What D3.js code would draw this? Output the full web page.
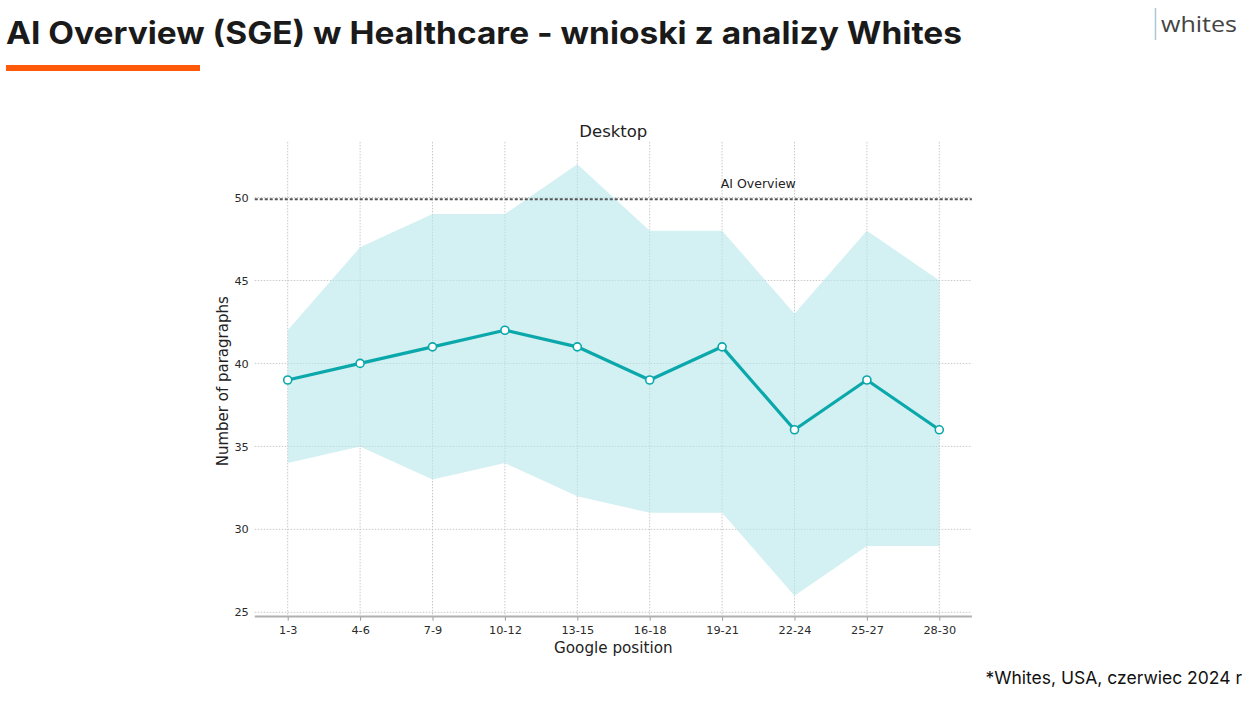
<!DOCTYPE html>
<html><head><meta charset="utf-8">
<script src="https://cdn.jsdelivr.net/npm/d3@7"></script>
<style>
html,body{margin:0;padding:0;background:#fff;}
svg{display:block;}
</style></head>
<body>
<svg id="chart" width="1258" height="705"></svg>
<script>
const categories = ["1-3","4-6","7-9","10-12","13-15","16-18","19-21","22-24","25-27","28-30"];
const meanValues = [39,40,41,42,41,39,41,36,39,36];
const upperValues = [42,47,49,49,52,48,48,43,48,45];
const lowerValues = [34,35,33,34,32,31,31,26,29,29];
const yTicks = [25,30,35,40,45,50];
const aiOverviewValue = 49.9;

const svg = d3.select("#chart");

// Header
svg.append("text").attr("x",6).attr("y",44)
  .attr("font-family","Inter, 'Open Sans', sans-serif").attr("font-weight",700)
  .attr("font-size",31).attr("fill","#1a1a1a")
  .attr("textLength",956).attr("lengthAdjust","spacingAndGlyphs")
  .text("AI Overview (SGE) w Healthcare - wnioski z analizy Whites");
svg.append("rect").attr("x",6).attr("y",65).attr("width",194).attr("height",6).attr("fill","#ff5a0a");

// logo
svg.append("line").attr("x1",1155.5).attr("x2",1155.5).attr("y1",8).attr("y2",40)
  .attr("stroke","#a9c8d6").attr("stroke-width",1.5);
svg.append("text").attr("x",1161).attr("y",32)
  .attr("font-family","'Open Sans', sans-serif").attr("font-size",22).attr("fill","#444")
  .attr("textLength",76).attr("lengthAdjust","spacingAndGlyphs")
  .text("whites");

// footnote
svg.append("text").attr("x",1242).attr("y",684).attr("text-anchor","end")
  .attr("font-family","Inter, 'Open Sans', sans-serif").attr("font-size",17.5).attr("fill","#111")
  .text("*Whites, USA, czerwiec 2024 r");

// Chart
const x = d3.scalePoint().domain(categories).range([287.7, 939.3]);
const step = x.step();
const xLeft = x(categories[0]) - step*0.455, xRight = x(categories[categories.length-1]) + step*0.45;
const y = d3.scaleLinear().domain([25,50]).range([612.3,197.5]);
const yTop = y(53.35), yBot = y(24.74);

const g = svg.append("g");
const font = "'DejaVu Sans', sans-serif";

// grid
g.append("g").selectAll("line").data(yTicks).join("line")
  .attr("x1",xLeft).attr("x2",xRight).attr("y1",d=>y(d)).attr("y2",d=>y(d))
  .attr("stroke","#c8c8c8").attr("stroke-width",1).attr("stroke-dasharray","1.5,1.5");
g.append("g").selectAll("line").data(categories).join("line")
  .attr("x1",d=>x(d)).attr("x2",d=>x(d)).attr("y1",yTop).attr("y2",yBot)
  .attr("stroke","#c8c8c8").attr("stroke-width",1).attr("stroke-dasharray","1.5,1.5");

// band
const area = d3.area().x((d,i)=>x(categories[i])).y0((d,i)=>y(lowerValues[i])).y1((d,i)=>y(upperValues[i]));
g.append("path").datum(categories).attr("d",area).attr("fill","#b6e6ea").attr("fill-opacity",0.6);

// AI overview line
g.append("line").attr("x1",xLeft).attr("x2",xRight).attr("y1",y(aiOverviewValue)).attr("y2",y(aiOverviewValue))
  .attr("stroke","#555").attr("stroke-width",2).attr("stroke-dasharray","3,2");
g.append("text").attr("x",x(categories[6])+step*0.5).attr("y",y(aiOverviewValue)-11)
  .attr("text-anchor","middle").attr("font-family",font).attr("font-size",12.5).attr("fill","#222")
  .text("AI Overview");

// mean line
const line = d3.line().x((d,i)=>x(categories[i])).y(d=>y(d));
g.append("path").datum(meanValues).attr("d",line).attr("fill","none")
  .attr("stroke","#0aa8aa").attr("stroke-width",3.2).attr("stroke-linejoin","round");
g.append("g").selectAll("circle").data(meanValues).join("circle")
  .attr("cx",(d,i)=>x(categories[i])).attr("cy",d=>y(d)).attr("r",4)
  .attr("fill","#fff").attr("stroke","#0aa8aa").attr("stroke-width",1.6);

// axes
const xAxis = d3.axisBottom(x).tickSize(4).tickPadding(5);
const xg = g.append("g").attr("transform",`translate(0,${yBot})`).call(xAxis);
xg.select(".domain").remove();
xg.selectAll(".tick line").attr("stroke","#999");
xg.selectAll("text").attr("font-family",font).attr("font-size",11.3).attr("fill","#2a2a2a");
g.append("line").attr("x1",xLeft).attr("x2",xRight).attr("y1",yBot).attr("y2",yBot)
  .attr("stroke","#b0b0b0").attr("stroke-width",2);

const yAxis = d3.axisLeft(y).tickValues(yTicks).tickSize(0).tickPadding(6);
const yg = g.append("g").attr("transform",`translate(${xLeft},0)`).call(yAxis);
yg.select(".domain").remove();
yg.selectAll("text").attr("font-family",font).attr("font-size",11.3).attr("fill","#2a2a2a");

// labels
svg.append("text").attr("x",(xLeft+xRight)/2).attr("y",137).attr("text-anchor","middle")
  .attr("font-family",font).attr("font-size",16.5).attr("fill","#222").text("Desktop");
svg.append("text").attr("x",(xLeft+xRight)/2).attr("y",653).attr("text-anchor","middle")
  .attr("font-family",font).attr("font-size",15.2).attr("fill","#222").text("Google position");
svg.append("text").attr("transform",`translate(228,${(yTop+yBot)/2+2}) rotate(-90)`).attr("text-anchor","middle")
  .attr("font-family",font).attr("font-size",15).attr("fill","#222").text("Number of paragraphs");
</script>
</body></html>
